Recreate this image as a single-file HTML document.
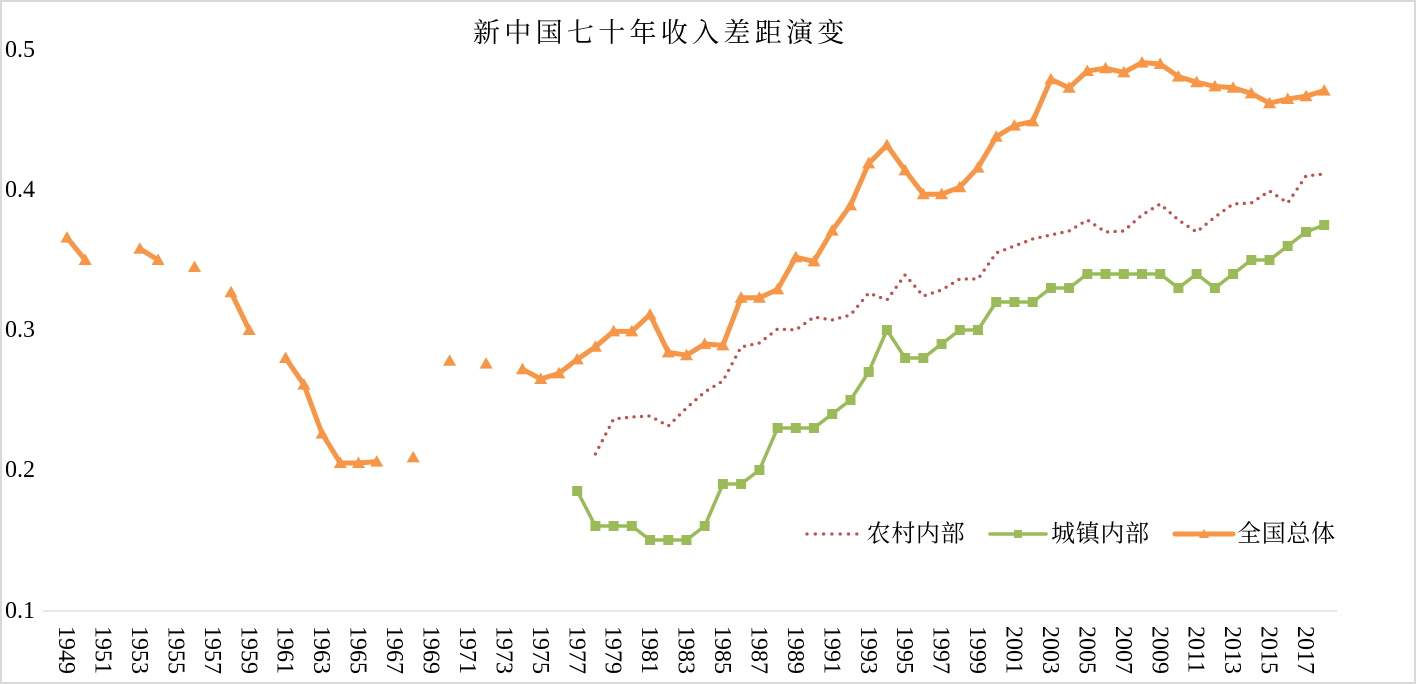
<!DOCTYPE html>
<html>
<head>
<meta charset="utf-8">
<style>
  html, body { margin:0; padding:0; background:#ffffff; }
  body { width:1416px; height:684px; overflow:hidden; }
  svg { display:block; }
  .num { font-family: "Liberation Serif", "Noto Serif CJK SC", serif; font-size:24px; fill:#000; }
  .cjk { font-family: "Liberation Serif", "Noto Serif CJK SC", "Noto Sans CJK SC", serif; fill:#000; }
</style>
</head>
<body>
<svg width="1416" height="684" viewBox="0 0 1416 684" xmlns="http://www.w3.org/2000/svg">
  <defs>
    <marker id="mt" markerUnits="userSpaceOnUse" markerWidth="16" markerHeight="16" refX="8" refY="8" overflow="visible">
      <path d="M8,1.5 L14.5,13 L1.5,13 Z" fill="#F79646"/>
    </marker>
    <marker id="ms" markerUnits="userSpaceOnUse" markerWidth="10" markerHeight="10" refX="5" refY="5" overflow="visible">
      <rect x="0" y="0" width="10" height="10" fill="#9BBB59"/>
    </marker>
    <path id="tri" d="M0,-6.5 L6.5,5 L-6.5,5 Z" fill="#F79646"/>
  </defs>

  <!-- border -->
  <rect x="1" y="1" width="1414" height="682" fill="#ffffff" stroke="#d9d9d9" stroke-width="2"/>

  <!-- title -->
  <text class="cjk" x="473" y="42" font-size="27" letter-spacing="4.3">新中国七十年收入差距演变</text>

  <!-- y labels -->
  <text class="num" x="5" y="57">0.5</text>
  <text class="num" x="5" y="197">0.4</text>
  <text class="num" x="5" y="337">0.3</text>
  <text class="num" x="5" y="477">0.2</text>
  <text class="num" x="5" y="618">0.1</text>

  <!-- x axis line -->
  <line x1="43" y1="611" x2="1337" y2="611" stroke="#d9d9d9" stroke-width="1.3"/>

  <!-- x labels -->
  <g class="num">
    <text transform="translate(59.1,626) rotate(90)">1949</text>
    <text transform="translate(95.5,626) rotate(90)">1951</text>
    <text transform="translate(132.0,626) rotate(90)">1953</text>
    <text transform="translate(168.4,626) rotate(90)">1955</text>
    <text transform="translate(204.9,626) rotate(90)">1957</text>
    <text transform="translate(241.3,626) rotate(90)">1959</text>
    <text transform="translate(277.7,626) rotate(90)">1961</text>
    <text transform="translate(314.2,626) rotate(90)">1963</text>
    <text transform="translate(350.6,626) rotate(90)">1965</text>
    <text transform="translate(387.1,626) rotate(90)">1967</text>
    <text transform="translate(423.5,626) rotate(90)">1969</text>
    <text transform="translate(459.9,626) rotate(90)">1971</text>
    <text transform="translate(496.4,626) rotate(90)">1973</text>
    <text transform="translate(532.8,626) rotate(90)">1975</text>
    <text transform="translate(569.3,626) rotate(90)">1977</text>
    <text transform="translate(605.7,626) rotate(90)">1979</text>
    <text transform="translate(642.1,626) rotate(90)">1981</text>
    <text transform="translate(678.6,626) rotate(90)">1983</text>
    <text transform="translate(715.0,626) rotate(90)">1985</text>
    <text transform="translate(751.5,626) rotate(90)">1987</text>
    <text transform="translate(787.9,626) rotate(90)">1989</text>
    <text transform="translate(824.3,626) rotate(90)">1991</text>
    <text transform="translate(860.8,626) rotate(90)">1993</text>
    <text transform="translate(897.2,626) rotate(90)">1995</text>
    <text transform="translate(933.7,626) rotate(90)">1997</text>
    <text transform="translate(970.1,626) rotate(90)">1999</text>
    <text transform="translate(1006.5,626) rotate(90)">2001</text>
    <text transform="translate(1043.0,626) rotate(90)">2003</text>
    <text transform="translate(1079.4,626) rotate(90)">2005</text>
    <text transform="translate(1115.9,626) rotate(90)">2007</text>
    <text transform="translate(1152.3,626) rotate(90)">2009</text>
    <text transform="translate(1188.7,626) rotate(90)">2011</text>
    <text transform="translate(1225.2,626) rotate(90)">2013</text>
    <text transform="translate(1261.6,626) rotate(90)">2015</text>
    <text transform="translate(1298.1,626) rotate(90)">2017</text>
  </g>

  <!-- rural (dotted) -->
  <polyline fill="none" stroke="#C0504D" stroke-width="3.3" stroke-linecap="round" stroke-linejoin="round" stroke-dasharray="0 7.5"
    points="595.4,454 613.6,419 631.8,417 650,416 668.3,426 686.5,408 704.7,392 722.9,381 741.1,347 759.4,343 777.6,329 795.8,330 814,317 832.2,320 850.5,315 868.7,293 886.9,300 905.1,275 923.3,296 941.6,290 959.8,279 978,279 996.2,253 1014.4,246 1032.7,239 1050.9,235 1069.1,231 1087.3,220 1105.5,232 1123.8,231 1142,215 1160.2,204 1178.4,220 1196.6,232 1214.9,217 1233.1,204 1251.3,203 1269.5,191 1287.7,203 1306,176 1324.2,174"/>

  <!-- urban (green squares) -->
  <polyline fill="none" stroke="#9BBB59" stroke-width="3.5" stroke-linejoin="round"
    marker-start="url(#ms)" marker-mid="url(#ms)" marker-end="url(#ms)"
    points="577.2,491 595.4,526 613.6,526 631.8,526 650,540 668.3,540 686.5,540 704.7,526 722.9,484 741.1,484 759.4,470 777.6,428 795.8,428 814,428 832.2,414 850.5,400 868.7,372 886.9,330 905.1,358 923.3,358 941.6,344 959.8,330 978,330 996.2,302 1014.4,302 1032.7,302 1050.9,288 1069.1,288 1087.3,274 1105.5,274 1123.8,274 1142,274 1160.2,274 1178.4,288 1196.6,274 1214.9,288 1233.1,274 1251.3,260 1269.5,260 1287.7,246 1306,232 1324.2,225"/>

  <!-- national (orange triangles) -->
  <g fill="none" stroke="#F79646" stroke-width="5" stroke-linejoin="round">
    <polyline marker-start="url(#mt)" marker-mid="url(#mt)" marker-end="url(#mt)" points="67,237.6 85.2,260"/>
    <polyline marker-start="url(#mt)" marker-mid="url(#mt)" marker-end="url(#mt)" points="139.9,248.8 158.1,260"/>
    <polyline marker-start="url(#mt)" marker-mid="url(#mt)" marker-end="url(#mt)" points="231,292.2 249.2,330"/>
    <polyline marker-start="url(#mt)" marker-mid="url(#mt)" marker-end="url(#mt)" points="285.6,358 303.9,384.6 322.1,433.6 340.3,463 358.5,463 376.7,461.6"/>
    <polyline marker-start="url(#mt)" marker-mid="url(#mt)" marker-end="url(#mt)"
      points="522.5,369.2 540.7,379 558.9,373.4 577.2,359.4 595.4,346.8 613.6,331.4 631.8,331.4 650,314.6 668.3,352.4 686.5,355.2 704.7,344 722.9,345.4 741.1,297.8 759.4,297.8 777.6,289.4 795.8,257.2 814,261.4 832.2,230.6 850.5,205.4 868.7,163.4 886.9,145.2 905.1,170.4 923.3,194.2 941.6,194.2 959.8,187.2 978,167.6 996.2,136.8 1014.4,125.6 1032.7,121.4 1050.9,79.4 1069.1,87.8 1087.3,71 1105.5,68.2 1123.8,72.4 1142,62.6 1160.2,64 1178.4,76.6 1196.6,82.2 1214.9,86.4 1233.1,87.8 1251.3,93.4 1269.5,103.2 1287.7,99 1306,96.2 1324.2,90.6"/>
  </g>
  <use href="#tri" x="194.5" y="267"/>
  <use href="#tri" x="413.2" y="457.4"/>
  <use href="#tri" x="449.6" y="360.8"/>
  <use href="#tri" x="486.1" y="363.6"/>

  <!-- legend -->
  <line x1="807" y1="534" x2="857" y2="534" stroke="#C0504D" stroke-width="3.3" stroke-linecap="round" stroke-dasharray="0 8.3"/>
  <text class="cjk" x="866.5" y="541.5" font-size="24" letter-spacing="0.7">农村内部</text>

  <line x1="990" y1="534" x2="1046" y2="534" stroke="#9BBB59" stroke-width="3.5" stroke-linecap="round"/>
  <rect x="1014" y="530" width="8" height="8" fill="#9BBB59"/>
  <text class="cjk" x="1051" y="541.5" font-size="24" letter-spacing="0.7">城镇内部</text>

  <line x1="1175" y1="534" x2="1233" y2="534" stroke="#F79646" stroke-width="5" stroke-linecap="round"/>
  <path d="M1204,529 L1209,538 L1199,538 Z" fill="#F79646"/>
  <text class="cjk" x="1237" y="541.5" font-size="24" letter-spacing="0.7">全国总体</text>
</svg>
</body>
</html>
